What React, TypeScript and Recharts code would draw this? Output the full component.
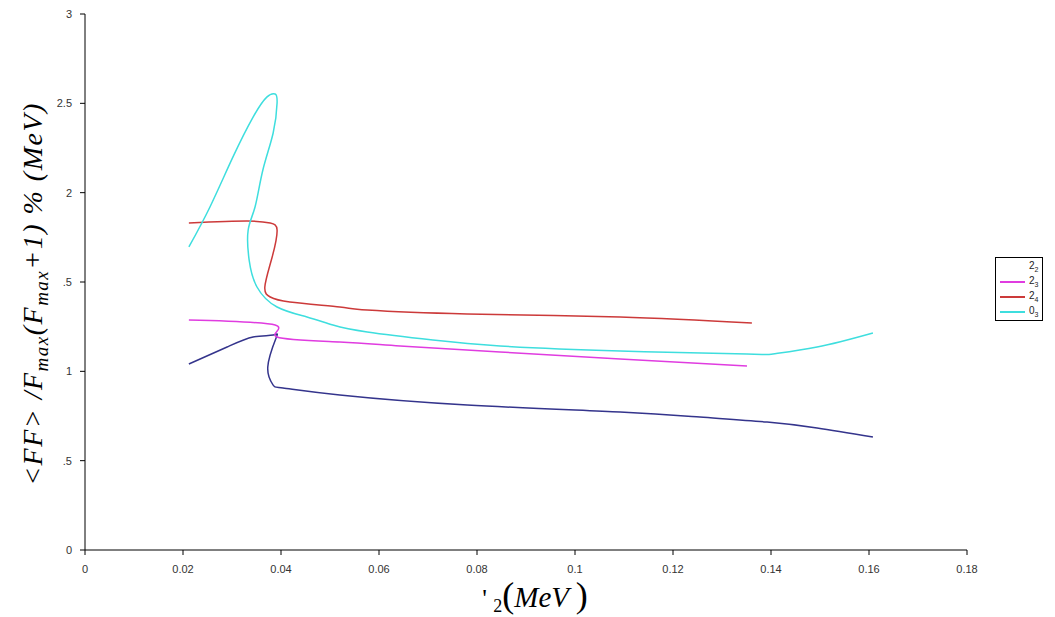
import { LineChart, Line, XAxis, YAxis, Legend } from "recharts";

const xTicks = [0, 0.02, 0.04, 0.06, 0.08, 0.1, 0.12, 0.14, 0.16, 0.18];
const xTickLabels = ["0", "0.02", "0.04", "0.06", "0.08", "0.1", "0.12", "0.14", "0.16", "0.18"];
const yTicks = [0, 0.5, 1, 1.5, 2, 2.5, 3];
const yTickLabels = ["0", ".5", "1", ".5", "2", "2.5", "3"];

// 2_2 (navy)
const state22 = [
  { x: 0.0212, y: 1.041 },
  { x: 0.029, y: 1.136 },
  { x: 0.0343, y: 1.192 },
  { x: 0.0384, y: 1.203 },
  { x: 0.039, y: 1.187 },
  { x: 0.0373, y: 1.024 },
  { x: 0.0384, y: 0.923 },
  { x: 0.0404, y: 0.907 },
  { x: 0.052, y: 0.868 },
  { x: 0.078, y: 0.812 },
  { x: 0.1092, y: 0.772 },
  { x: 0.1255, y: 0.744 },
  { x: 0.1392, y: 0.716 },
  { x: 0.1494, y: 0.683 },
  { x: 0.1608, y: 0.632 },
];

// 2_3 (magenta)
const state23 = [
  { x: 0.0212, y: 1.287 },
  { x: 0.0388, y: 1.259 },
  { x: 0.0392, y: 1.192 },
  { x: 0.052, y: 1.164 },
  { x: 0.0643, y: 1.142 },
  { x: 0.0847, y: 1.108 },
  { x: 0.1092, y: 1.069 },
  { x: 0.1351, y: 1.03 },
];

// 2_4 (red)
const state24 = [
  { x: 0.0212, y: 1.83 },
  { x: 0.0331, y: 1.841 },
  { x: 0.0378, y: 1.83 },
  { x: 0.0392, y: 1.791 },
  { x: 0.0382, y: 1.64 },
  { x: 0.0367, y: 1.472 },
  { x: 0.0378, y: 1.416 },
  { x: 0.0418, y: 1.388 },
  { x: 0.052, y: 1.36 },
  { x: 0.0576, y: 1.343 },
  { x: 0.078, y: 1.321 },
  { x: 0.1092, y: 1.304 },
  { x: 0.1361, y: 1.27 },
];

// 0_3 (cyan)
const state03 = [
  { x: 0.0212, y: 1.696 },
  { x: 0.0255, y: 1.92 },
  { x: 0.0302, y: 2.2 },
  { x: 0.0343, y: 2.423 },
  { x: 0.0371, y: 2.535 },
  { x: 0.0388, y: 2.552 },
  { x: 0.0392, y: 2.502 },
  { x: 0.0384, y: 2.334 },
  { x: 0.0363, y: 2.127 },
  { x: 0.0347, y: 1.92 },
  { x: 0.0333, y: 1.791 },
  { x: 0.0335, y: 1.623 },
  { x: 0.0351, y: 1.472 },
  { x: 0.0392, y: 1.36 },
  { x: 0.0453, y: 1.304 },
  { x: 0.0506, y: 1.259 },
  { x: 0.0576, y: 1.22 },
  { x: 0.071, y: 1.175 },
  { x: 0.0847, y: 1.142 },
  { x: 0.1092, y: 1.114 },
  { x: 0.1351, y: 1.097 },
  { x: 0.1404, y: 1.097 },
  { x: 0.1494, y: 1.136 },
  { x: 0.1608, y: 1.215 },
];

const series = [
  { id: "s22", base: "2", sub: "2", color: "#34348c", data: state22, keyLine: false },
  { id: "s23", base: "2", sub: "3", color: "#e03ce0", data: state23, keyLine: true },
  { id: "s24", base: "2", sub: "4", color: "#cc3a3a", data: state24, keyLine: true },
  { id: "s03", base: "0", sub: "3", color: "#3edede", data: state03, keyLine: true },
];

const tickStyle = { fontFamily: "Liberation Sans", fontSize: 11, fill: "#333" };

const YTitle = () => (
  <text
    x={42}
    y={294}
    transform="rotate(-90, 42, 294)"
    textAnchor="middle"
    fontFamily="Liberation Serif"
    fontStyle="italic"
    fontSize={28}
    letterSpacing={1.5}
    fill="#000"
  >
    {"<FF> /F"}
    <tspan fontSize={19} dy={6}>max</tspan>
    <tspan dy={-6}>(F</tspan>
    <tspan fontSize={19} dy={6}>max</tspan>
    <tspan dy={-6}>+1) % (MeV)</tspan>
  </text>
);

const XTitle = () => (
  <text x={535} y={607} textAnchor="middle" fontFamily="Liberation Serif" fill="#000">
    <tspan fontSize={26}>{"'  "}</tspan>
    <tspan fontSize={18} dy={5}>2</tspan>
    <tspan fontSize={36} dy={-5}>(</tspan>
    <tspan fontSize={29} fontStyle="italic">{"MeV "}</tspan>
    <tspan fontSize={36}>)</tspan>
  </text>
);

const renderLegend = () => (
  <div
    style={{
      border: "1px solid #000",
      background: "#fff",
      width: 46,
      height: 60,
      padding: "1px 0",
      boxSizing: "content-box",
      fontFamily: "Liberation Sans",
      fontSize: 10,
      color: "#222",
    }}
  >
    {series.map((s) => (
      <div key={s.id} style={{ display: "flex", alignItems: "center", height: 15 }}>
        <span
          style={{
            display: "inline-block",
            width: 25,
            marginLeft: 4,
            marginRight: 4,
            borderTop: s.keyLine ? `2px solid ${s.color}` : "2px solid transparent",
          }}
        />
        <span>
          {s.base}
          <sub style={{ fontSize: 7 }}>{s.sub}</sub>
        </span>
      </div>
    ))}
  </div>
);

export default function App() {
  return (
    <div style={{ position: "absolute", left: 0, top: 0, background: "#fff" }}>
      <LineChart
        width={1055}
        height={617}
        margin={{ top: 14, right: 88, bottom: 37, left: 25 }}
      >
        <XAxis
          type="number"
          dataKey="x"
          domain={[0, 0.18]}
          ticks={xTicks}
          tickFormatter={(v: number) => xTickLabels[xTicks.indexOf(v)] ?? String(v)}
          tick={tickStyle}
          tickSize={5}
          tickMargin={10}
          height={30}
          stroke="#000"
          allowDuplicatedCategory={false}
          label={{ content: () => <XTitle /> }}
        />
        <YAxis
          type="number"
          dataKey="y"
          domain={[0, 3]}
          ticks={yTicks}
          tickFormatter={(v: number) => yTickLabels[yTicks.indexOf(v)] ?? String(v)}
          tick={tickStyle}
          tickSize={5}
          tickMargin={8}
          width={60}
          stroke="#000"
          label={{ content: () => <YTitle /> }}
        />
        <Legend
          content={renderLegend}
          layout="vertical"
          align="center"
          verticalAlign="middle"
          wrapperStyle={{ position: "absolute", left: 995, top: 257, width: 48 }}
        />
        {series.map((s) => (
          <Line
            key={s.id}
            data={s.data}
            dataKey="y"
            name={s.base + s.sub}
            type="natural"
            stroke={s.color}
            strokeWidth={1.5}
            dot={false}
            isAnimationActive={false}
          />
        ))}
      </LineChart>
    </div>
  );
}
